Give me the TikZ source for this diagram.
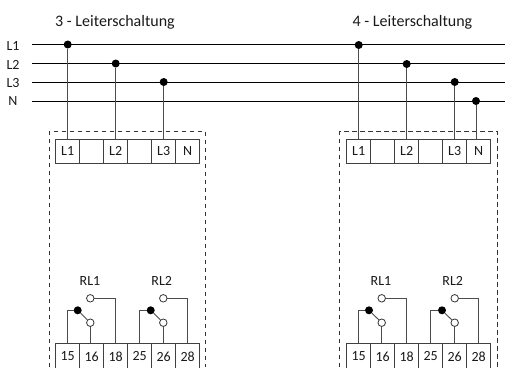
\documentclass[tikz,border=0pt]{standalone}
\usepackage{fontspec}
\setmainfont{Carlito}
\usetikzlibrary{positioning}

\begin{document}
\begin{tikzpicture}[
    x=1bp, y=-1bp,
    every node/.style={font=\fontsize{14bp}{16bp}\selectfont, text=black!90},
    title/.style={font=\fontsize{16bp}{18bp}\selectfont},
    bus/.style={line width=0.8bp, black},
    wire/.style={line width=0.9bp, black!70},
    frame/.style={line width=0.8bp, black!80, dashed, dash pattern=on 4.5bp off 3.5bp},
    cell/.style={draw=black!75, line width=0.8bp, minimum width=24bp, minimum height=24bp, inner sep=0pt},
    lowcell/.style={draw=black!75, line width=0.8bp, minimum width=24bp, minimum height=26bp, inner sep=0pt, anchor=north},
    dot/.style={circle, fill=black, minimum size=8bp, inner sep=0pt},
    open/.style={circle, draw=black!80, fill=white, line width=0.8bp, minimum size=7.5bp, inner sep=0pt}
]
\useasboundingbox (0,0) rectangle (505,367);

% === BUS LINES ===

\node (labL1) at (13,46) {L1};
\node (labL2) at (13,65) {L2};
\node (labL3) at (13,83) {L3};
\node (labN) at (13,101) {N};

\coordinate (busL1a) at (32,44);
\coordinate (busL1b) at (505,44);
\coordinate (busL2a) at (32,63);
\coordinate (busL2b) at (505,63);
\coordinate (busL3a) at (32,82);
\coordinate (busL3b) at (505,82);
\coordinate (busNa) at (32,101);
\coordinate (busNb) at (505,101);

\draw[bus] (busL1a) -- (busL1b);
\draw[bus] (busL2a) -- (busL2b);
\draw[bus] (busL3a) -- (busL3b);
\draw[bus] (busNa) -- (busNb);

% === LEFT BLOCK ===

\node[title] (titleA) at (115,22) {3 - Leiterschaltung};

% dashed housing, open at the bottom
\coordinate (boxA1) at (49,367);
\coordinate (boxA2) at (49,131.5);
\coordinate (boxA3) at (205.5,131.5);
\coordinate (boxA4) at (205.5,367);
\draw[frame] (boxA1) -- (boxA2) -- (boxA3) -- (boxA4);

% top terminals
\node[cell] (topA1) at (67.7,151) {L1};
\node[cell] (topA2) at (91.7,151) {};
\node[cell] (topA3) at (115.7,151) {L2};
\node[cell] (topA4) at (139.7,151) {};
\node[cell] (topA5) at (163.7,151) {L3};
\node[cell] (topA6) at (187.7,151) {N};

% connections to the bus
\node[dot] (dotA1) at (67.7,44.5) {};
\node[dot] (dotA2) at (115.7,63.5) {};
\node[dot] (dotA3) at (163.7,82) {};
\draw[wire] (dotA1) -- (topA1);
\draw[wire] (dotA2) -- (topA3);
\draw[wire] (dotA3) -- (topA5);

% bottom terminals
\node[lowcell] (lowA1) at (67.7,343) {15};
\node[lowcell] (lowA2) at (91.7,343) {16};
\node[lowcell] (lowA3) at (115.7,343) {18};
\node[lowcell] (lowA4) at (139.7,343) {25};
\node[lowcell] (lowA5) at (163.7,343) {26};
\node[lowcell] (lowA6) at (187.7,343) {28};

% relay RL1
\node (relA1) at (90,281) {RL1};
\node[open] (noA1) at (90.3,298.3) {};
\node[open] (ncA1) at (90.3,322.7) {};
\node[dot] (comA1) at (77.7,310.3) {};
\draw[wire] (comA1) -- (ncA1);
\draw[wire] (comA1) -| (lowA1.north);
\draw[wire] (ncA1) -- (ncA1 |- lowA2.north);
\draw[wire] (noA1) -| (lowA3.north);

% relay RL2
\node (relA2) at (161.7,281) {RL2};
\node[open] (noA2) at (163.3,298.3) {};
\node[open] (ncA2) at (163.3,322.7) {};
\node[dot] (comA2) at (150.7,310.3) {};
\draw[wire] (comA2) -- (ncA2);
\draw[wire] (comA2) -| (lowA4.north);
\draw[wire] (ncA2) -- (ncA2 |- lowA5.north);
\draw[wire] (noA2) -| (lowA6.north);

% === RIGHT BLOCK ===

\node[title] (titleB) at (412.5,22) {4 - Leiterschaltung};

% dashed housing, open at the bottom
\coordinate (boxB1) at (339.5,367);
\coordinate (boxB2) at (339.5,131.5);
\coordinate (boxB3) at (497.3,131.5);
\coordinate (boxB4) at (497.3,367);
\draw[frame] (boxB1) -- (boxB2) -- (boxB3) -- (boxB4);

% top terminals
\node[cell] (topB1) at (358.7,151) {L1};
\node[cell] (topB2) at (382.7,151) {};
\node[cell] (topB3) at (406.7,151) {L2};
\node[cell] (topB4) at (430.7,151) {};
\node[cell] (topB5) at (454.7,151) {L3};
\node[cell] (topB6) at (478.7,151) {N};

% connections to the bus
\node[dot] (dotB1) at (358.7,45) {};
\node[dot] (dotB2) at (406.7,64) {};
\node[dot] (dotB3) at (454.7,82) {};
\node[dot] (dotB4) at (476,101) {};
\draw[wire] (dotB1) -- (topB1);
\draw[wire] (dotB2) -- (topB3);
\draw[wire] (dotB3) -- (topB5);
\draw[wire] (dotB4) -- (dotB4 |- topB6.north);

% bottom terminals
\node[lowcell] (lowB1) at (358.7,343) {15};
\node[lowcell] (lowB2) at (382.7,343) {16};
\node[lowcell] (lowB3) at (406.7,343) {18};
\node[lowcell] (lowB4) at (430.7,343) {25};
\node[lowcell] (lowB5) at (454.7,343) {26};
\node[lowcell] (lowB6) at (478.7,343) {28};

% relay RL1
\node (relB1) at (381,281) {RL1};
\node[open] (noB1) at (381.7,298.3) {};
\node[open] (ncB1) at (381.7,322.7) {};
\node[dot] (comB1) at (369,310.3) {};
\draw[wire] (comB1) -- (ncB1);
\draw[wire] (comB1) -| (lowB1.north);
\draw[wire] (ncB1) -- (ncB1 |- lowB2.north);
\draw[wire] (noB1) -| (lowB3.north);

% relay RL2
\node (relB2) at (452.7,281) {RL2};
\node[open] (noB2) at (454.7,298.3) {};
\node[open] (ncB2) at (454.7,322.7) {};
\node[dot] (comB2) at (442,310.3) {};
\draw[wire] (comB2) -- (ncB2);
\draw[wire] (comB2) -| (lowB4.north);
\draw[wire] (ncB2) -- (ncB2 |- lowB5.north);
\draw[wire] (noB2) -| (lowB6.north);

\end{tikzpicture}
\end{document}
